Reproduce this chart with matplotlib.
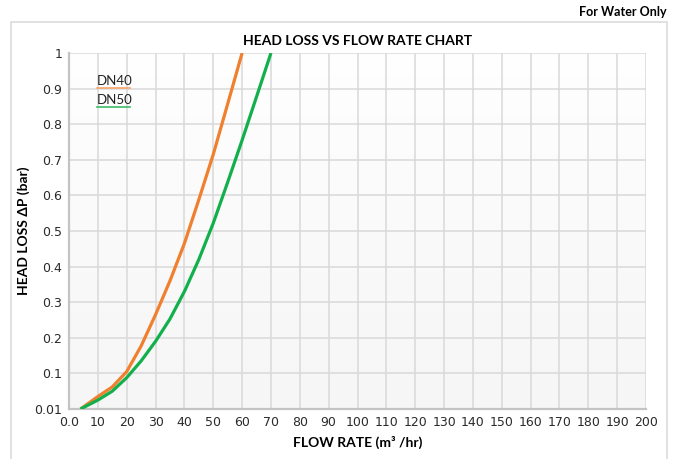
import numpy as np
import matplotlib.pyplot as plt
from matplotlib.patches import Rectangle

# flow rate (m3/hr) and head loss (bar)
dn40_flow = [4, 10, 15, 20, 25, 30, 35, 40, 45, 50, 55, 60]
dn40_loss = [0.0, 0.035, 0.062, 0.105, 0.177, 0.265, 0.36, 0.465, 0.588, 0.715, 0.857, 1.0]
dn50_flow = [4, 10, 15, 20, 25, 30, 35, 40, 45, 50, 55, 60, 65, 70]
dn50_loss = [0.0, 0.025, 0.05, 0.088, 0.135, 0.19, 0.253, 0.33, 0.42, 0.522, 0.637, 0.755, 0.877, 1.0]

x_ticks = list(range(0, 201, 10))
x_labels = ["0.0"] + [str(v) for v in x_ticks[1:]]
y_ticks = [0, 0.1, 0.2, 0.3, 0.4, 0.5, 0.6, 0.7, 0.8, 0.9, 1.0]
y_labels = ["0.01", "0.1", "0.2", "0.3", "0.4", "0.5", "0.6", "0.7", "0.8", "0.9", "1"]

orange = "#f07f2e"
green = "#12b04c"

fig = plt.figure(figsize=(6.83, 4.59), dpi=100)
fig.patch.set_facecolor("white")

# outer frame
fig.patches.append(Rectangle((11 / 683, -0.05), 656 / 683, 1 - 22 / 459 + 0.05,
                             transform=fig.transFigure, fill=False,
                             edgecolor="#dcdcdc", linewidth=1.2))

ax = fig.add_axes([69 / 683, 1 - 409 / 459, 577 / 683, 356 / 459])

# vertical gradient background
grad = np.linspace(1, 0, 256).reshape(-1, 1)
ax.imshow(grad, extent=[0, 200, 0, 1], aspect="auto", cmap="Greys",
          vmin=-0.1, vmax=14, origin="lower", zorder=0)

ax.plot(dn40_flow, dn40_loss, color=orange, linewidth=2.3, zorder=3,
        solid_capstyle="butt", solid_joinstyle="round")
ax.plot(dn50_flow, dn50_loss, color=green, linewidth=2.3, zorder=3,
        solid_capstyle="butt", solid_joinstyle="round")

ax.set_xlim(0, 200)
ax.set_ylim(0, 1)
ax.set_xticks(x_ticks)
ax.set_xticklabels(x_labels, fontsize=9, color="#2a2a2a")
ax.set_yticks(y_ticks)
ax.set_yticklabels(y_labels, fontsize=9, color="#2a2a2a")
ax.tick_params(length=0, pad=5)
ax.grid(True, color="#d9d9d9", linewidth=1.1, zorder=1)
ax.set_axisbelow(True)
for side in ["top", "right"]:
    ax.spines[side].set_visible(False)
for side in ["left", "bottom"]:
    ax.spines[side].set_color("#c4c4c4")
    ax.spines[side].set_linewidth(1.6)

# legend: label with coloured underline
legend_items = [("DN40", "#f5a46a", 0.903), ("DN50", "#3dbd6a", 0.849)]
for name, col, yy in legend_items:
    ax.text(0.0485, yy + 0.007, name, transform=ax.transAxes, fontsize=9.5,
            family="Lato", color="#222222", va="baseline", ha="left")
    ax.plot([0.0485, 0.106], [yy, yy], transform=ax.transAxes,
            color=col, linewidth=1.2, clip_on=False)

ax.set_title("HEAD LOSS VS FLOW RATE CHART", fontsize=10, fontweight="bold",
             family="Lato", pad=6)
ax.set_xlabel("FLOW RATE (m³ /hr)", fontsize=10, fontweight="bold",
              family="Lato", labelpad=5)
ax.set_ylabel("HEAD LOSS ΔP (bar)", fontsize=10, fontweight="bold",
              family=["Lato", "DejaVu Sans"], labelpad=3)

fig.text(667 / 683, 1 - 12 / 459, "For Water Only", ha="right", va="center",
         fontsize=9, fontweight="bold", family="Lato")

fig.savefig("out.png", dpi=100)
